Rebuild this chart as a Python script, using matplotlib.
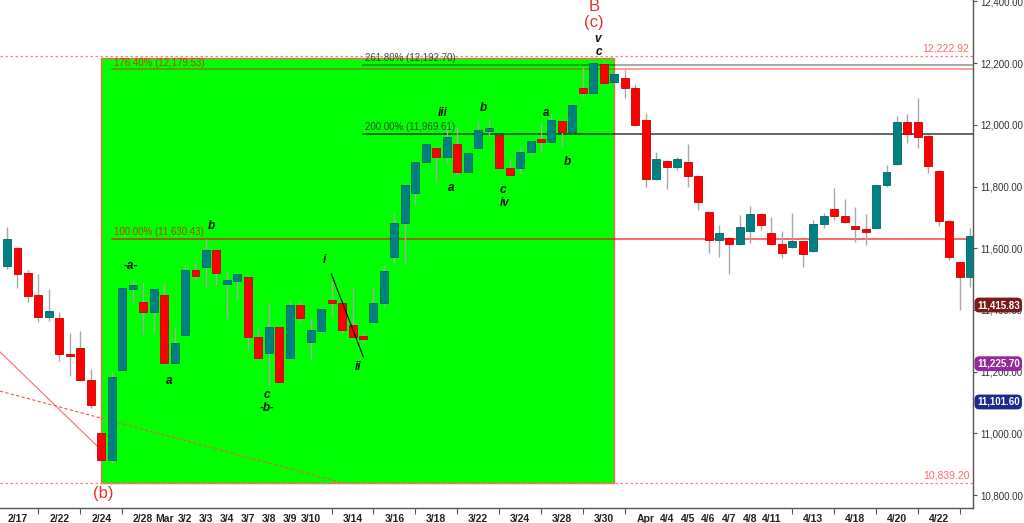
# ============================================================
# plot.py — gráfico de velas com contagem de ondas e fibos
# ============================================================

import matplotlib
matplotlib.use("Agg")
import matplotlib.pyplot as plt
from matplotlib.patches import Rectangle

plt.rcParams['font.family'] = ['Liberation Sans', 'DejaVu Sans']

# Grupo 1: dados (duas velas por dia)
aberturas = [11543, 11600, 11519, 11449, 11377, 11373, 11256, 11277, 11173, 11001,
             10912, 11206, 11469, 11425, 11392, 11449, 11229, 11318, 11528, 11540,
             11594, 11483, 11495, 11508, 11313, 11261, 11344, 11245, 11417, 11296,
             11333, 11432, 11421, 11351, 11314, 11360, 11423, 11570, 11681, 11778,
             11880, 11926, 11897, 11939, 11848, 11924, 11981, 11967, 11861, 11859,
             11911, 11954, 11945, 12012, 11978, 12120, 12102, 12196, 12138, 12153,
             12119, 12016, 11823, 11884, 11862, 11879, 11835, 11718, 11627, 11634,
             11613, 11657, 11711, 11650, 11614, 11605, 11623, 11591, 11677, 11726,
             11705, 11673, 11662, 11666, 11804, 11873, 12009, 12010, 11964, 11851,
             11689, 11556, 11508]
maximas = [11668, 11605, 11529, 11516, 11467, 11394, 11326, 11332, 11208, 11003,
           11200, 11475, 11497, 11491, 11470, 11486, 11346, 11546, 11556, 11629,
           11597, 11524, 11518, 11510, 11338, 11427, 11346, 11430, 11432, 11370,
           11405, 11497, 11424, 11475, 11330, 11473, 11546, 11715, 11808, 11882,
           11940, 11928, 11992, 11992, 11910, 12013, 12016, 11969, 11891, 11929,
           11948, 12010, 12032, 12015, 12066, 12188, 12205, 12210, 12166, 12178,
           12132, 12039, 11912, 11886, 11897, 11938, 11837, 11720, 11675, 11637,
           11708, 11737, 11713, 11702, 11657, 11715, 11625, 11691, 11713, 11794,
           11759, 11735, 11710, 11807, 11870, 12029, 12035, 12086, 11967, 11853,
           11691, 11558, 11664]
minimas = [11532, 11470, 11427, 11362, 11365, 11235, 11186, 11170, 11081, 10908,
           10905, 11204, 11427, 11321, 11324, 11225, 11225, 11315, 11497, 11473,
           11481, 11373, 11432, 11270, 11240, 11153, 11165, 11243, 11362, 11240,
           11330, 11380, 11324, 11310, 11292, 11358, 11408, 11553, 11553, 11740,
           11878, 11816, 11877, 11837, 11845, 11920, 11964, 11857, 11835, 11843,
           11902, 11908, 11943, 11931, 11975, 12091, 12100, 12135, 12136, 12086,
           11997, 11799, 11820, 11791, 11853, 11799, 11724, 11583, 11572, 11516,
           11612, 11618, 11659, 11612, 11569, 11602, 11540, 11588, 11664, 11691,
           11681, 11621, 11610, 11664, 11800, 11871, 11942, 11924, 11845, 11673,
           11562, 11400, 11475]
fechamentos = [11629, 11516, 11446, 11377, 11396, 11256, 11251, 11172, 11093, 10912,
               11181, 11470, 11480, 11392, 11467, 11229, 11292, 11529, 11510, 11594,
               11519, 11497, 11515, 11313, 11243, 11344, 11167, 11417, 11373, 11335,
               11402, 11421, 11335, 11313, 11307, 11423, 11526, 11681, 11805, 11880,
               11938, 11897, 11961, 11848, 11908, 11983, 11989, 11859, 11837, 11911,
               11946, 11945, 12016, 11978, 12063, 12102, 12199, 12137, 12164, 12120,
               11999, 11823, 11890, 11862, 11888, 11835, 11749, 11627, 11648, 11614,
               11670, 11711, 11675, 11614, 11583, 11623, 11580, 11678, 11705, 11705,
               11684, 11661, 11654, 11805, 11848, 12009, 11970, 11961, 11866, 11689,
               11572, 11508, 11640]

datas = ['2/17', '2/22', '2/24', '2/28', 'Mar', '3/2', '3/3', '3/4', '3/7', '3/8',
         '3/9', '3/10', '3/14', '3/16', '3/18', '3/22', '3/24', '3/28', '3/30', 'Apr',
         '4/4', '4/5', '4/6', '4/7', '4/8', '4/11', '4/13', '4/18', '4/20', '4/22']
datas_idx = [1, 5, 9, 13, 15, 17, 19, 21, 23, 25, 27, 29, 33, 37, 41, 45, 49, 53, 57, 61,
             63, 65, 67, 69, 71, 73, 77, 81, 85, 89]
marcas_idx = [3, 7, 11, 13, 15, 17, 19, 21, 23, 25, 27, 29, 31, 35, 39, 43, 47, 51, 55, 59,
              61, 63, 65, 67, 69, 71, 73, 75, 79, 83, 87, 91]

# niveis de fibonacci: rotulo, valor, vela inicial
fib_rotulos = ['261.80%', '200.00%', '176.40%', '100.00%']
fib_valores = [12192.70, 11969.61, 12179.53, 11630.43]
fib_inicio = [34, 34, 10, 10]
fib_cores = ['black', 'black', 'red', 'red']
fib_alfa = [0.4, 0.7, 0.45, 0.7]

# linhas pontilhadas de referencia
niveis_ref = [12222.92, 10839.20]

# etiquetas de preco no eixo direito
etiquetas = [11415.83, 11225.70, 11101.60]
etiquetas_cores = ['#7d1b1b', '#962a9c', '#1d2a8a']

# caixa verde (vela inicial, vela final, base, topo)
caixa = (9, 58, 10839.20, 12215)

# contagem de ondas: texto, x (vela), preco
ondas_txt = ['-a-', 'b', 'a', 'c', '-b-', 'i', 'ii', 'iii', 'a', 'b', 'c', 'iv',
             'a', 'b', 'c', 'v']
ondas_x = [11.84, 19.48, 15.47, 24.8, 24.83, 30.3, 33.5, 41.6, 42.47, 45.5, 47.4,
           47.56, 51.45, 53.5, 56.5, 56.45]
ondas_y = [11542, 11672, 11170, 11124, 11082, 11562, 11215, 12039, 11794, 12053,
           11789, 11748, 12039, 11878, 12235, 12278]

# rotulos vermelhos de grau maior
graus_txt = ['B', '(c)', '(b)']
graus_x = [56.07, 56.07, 9.17]
graus_y = [12382, 12330, 10806]

# linhas diagonais
diag_solida_x = [-0.67, 10.0]
diag_solida_y = [11264, 10913]
diag_tracejada_x = [-0.67, 31.8]
diag_tracejada_y = [11137, 10842]
linha_i_ii_x = [30.97, 34.03]
linha_i_ii_y = [11517, 11248]


# Grupo 2: desenho
fig = plt.figure(figsize=(10.24, 5.23), dpi=100)
ax = fig.add_axes([0, 15 / 523, 973 / 1024, 508 / 523])
ax.set_xlim(-0.67, 92.26)
ax.set_ylim(10758, 12404.5)

x0, x1, base, topo = caixa
ax.add_patch(Rectangle((x0, base), x1 - x0, topo - base, facecolor='#00ff00',
                       edgecolor='#f06a4a', linewidth=1, zorder=1))

# velas
largura = 0.76
for i in range(len(aberturas)):
    o, h, l, c = aberturas[i], maximas[i], minimas[i], fechamentos[i]
    ax.vlines(i, l, h, color='#a8a8a8', linewidth=1, zorder=3)
    if c >= o:
        cor, borda = '#008080', '#006565'
    else:
        cor, borda = '#ff0000', '#c80000'
    altura = max(abs(c - o), 6)
    ax.add_patch(Rectangle((i - largura / 2, min(o, c)), largura, altura,
                           facecolor=cor, edgecolor=borda, linewidth=0.6, zorder=4))

# fibos
for rot, val, ini, cor, alfa in zip(fib_rotulos, fib_valores, fib_inicio, fib_cores, fib_alfa):
    ax.plot([ini, 92.26], [val, val], color=cor, alpha=alfa, linewidth=1.2, zorder=2)
    cor_txt = '#303030' if cor == 'black' else 'red'
    alfa_txt = 0.85 if cor == 'black' else 0.72
    ax.text(ini + 0.2, val + 6, f"{rot} ({val:,.2f})", color=cor_txt, alpha=alfa_txt,
            fontsize=7, va='bottom', ha='left', zorder=5)

# referencias pontilhadas
for val in niveis_ref:
    ax.plot([-0.67, 92.26], [val, val], color='#ff8080', linestyle=(0, (2, 2)),
            linewidth=0.9, zorder=2)
    ax.text(91.9, val + 8, f"{val:,.2f}", color='#ff6a6a', fontsize=7.5,
            ha='right', va='bottom', zorder=5)

ax.plot(diag_solida_x, diag_solida_y, color='#ff6a6a', linewidth=0.8, zorder=2)
ax.plot(diag_tracejada_x, diag_tracejada_y, color='#ff5050', linewidth=0.8,
        linestyle=(0, (3, 2)), zorder=2)
ax.plot(linha_i_ii_x, linha_i_ii_y, color='black', linewidth=0.8, zorder=5)

for t, x, y in zip(ondas_txt, ondas_x, ondas_y):
    ax.text(x, y, t, fontsize=8.5, fontstyle='italic', fontweight='bold',
            ha='center', va='center', color='#111111', zorder=6)

for t, x, y in zip(graus_txt, graus_x, graus_y):
    ax.text(x, y, t, fontsize=12, color='#e8322a', ha='center', va='center',
            zorder=6, clip_on=False)

# eixos
for lado in ['left', 'top']:
    ax.spines[lado].set_visible(False)
for lado in ['right', 'bottom']:
    ax.spines[lado].set_color('#555555')
    ax.spines[lado].set_linewidth(1)

ax.yaxis.tick_right()
ax.set_yticks(range(10800, 12401, 200))
ax.set_yticklabels([f"{v:,.2f}" for v in range(10800, 12401, 200)])
ax.tick_params(axis='y', length=3, width=0.8, color='#555555', labelsize=7,
               labelcolor='#333333', pad=2)

ax.set_xticks(datas_idx)
ax.set_xticklabels(datas, fontweight='bold')
ax.set_xticks(marcas_idx, minor=True)
ax.tick_params(axis='x', which='major', length=0, labelsize=7.5, labelcolor='#222222', pad=4)
ax.tick_params(axis='x', which='minor', length=4, width=0.8, color='#555555')

for val, cor in zip(etiquetas, etiquetas_cores):
    ax.text(1.004, val, f"{val:,.2f}", transform=ax.get_yaxis_transform(),
            color='white', fontsize=7, fontweight='bold', ha='left', va='center',
            bbox=dict(boxstyle='round,pad=0.25,rounding_size=0.5', facecolor=cor,
                      edgecolor='none'),
            zorder=7, clip_on=False)

fig.savefig('out.png', dpi=100)
